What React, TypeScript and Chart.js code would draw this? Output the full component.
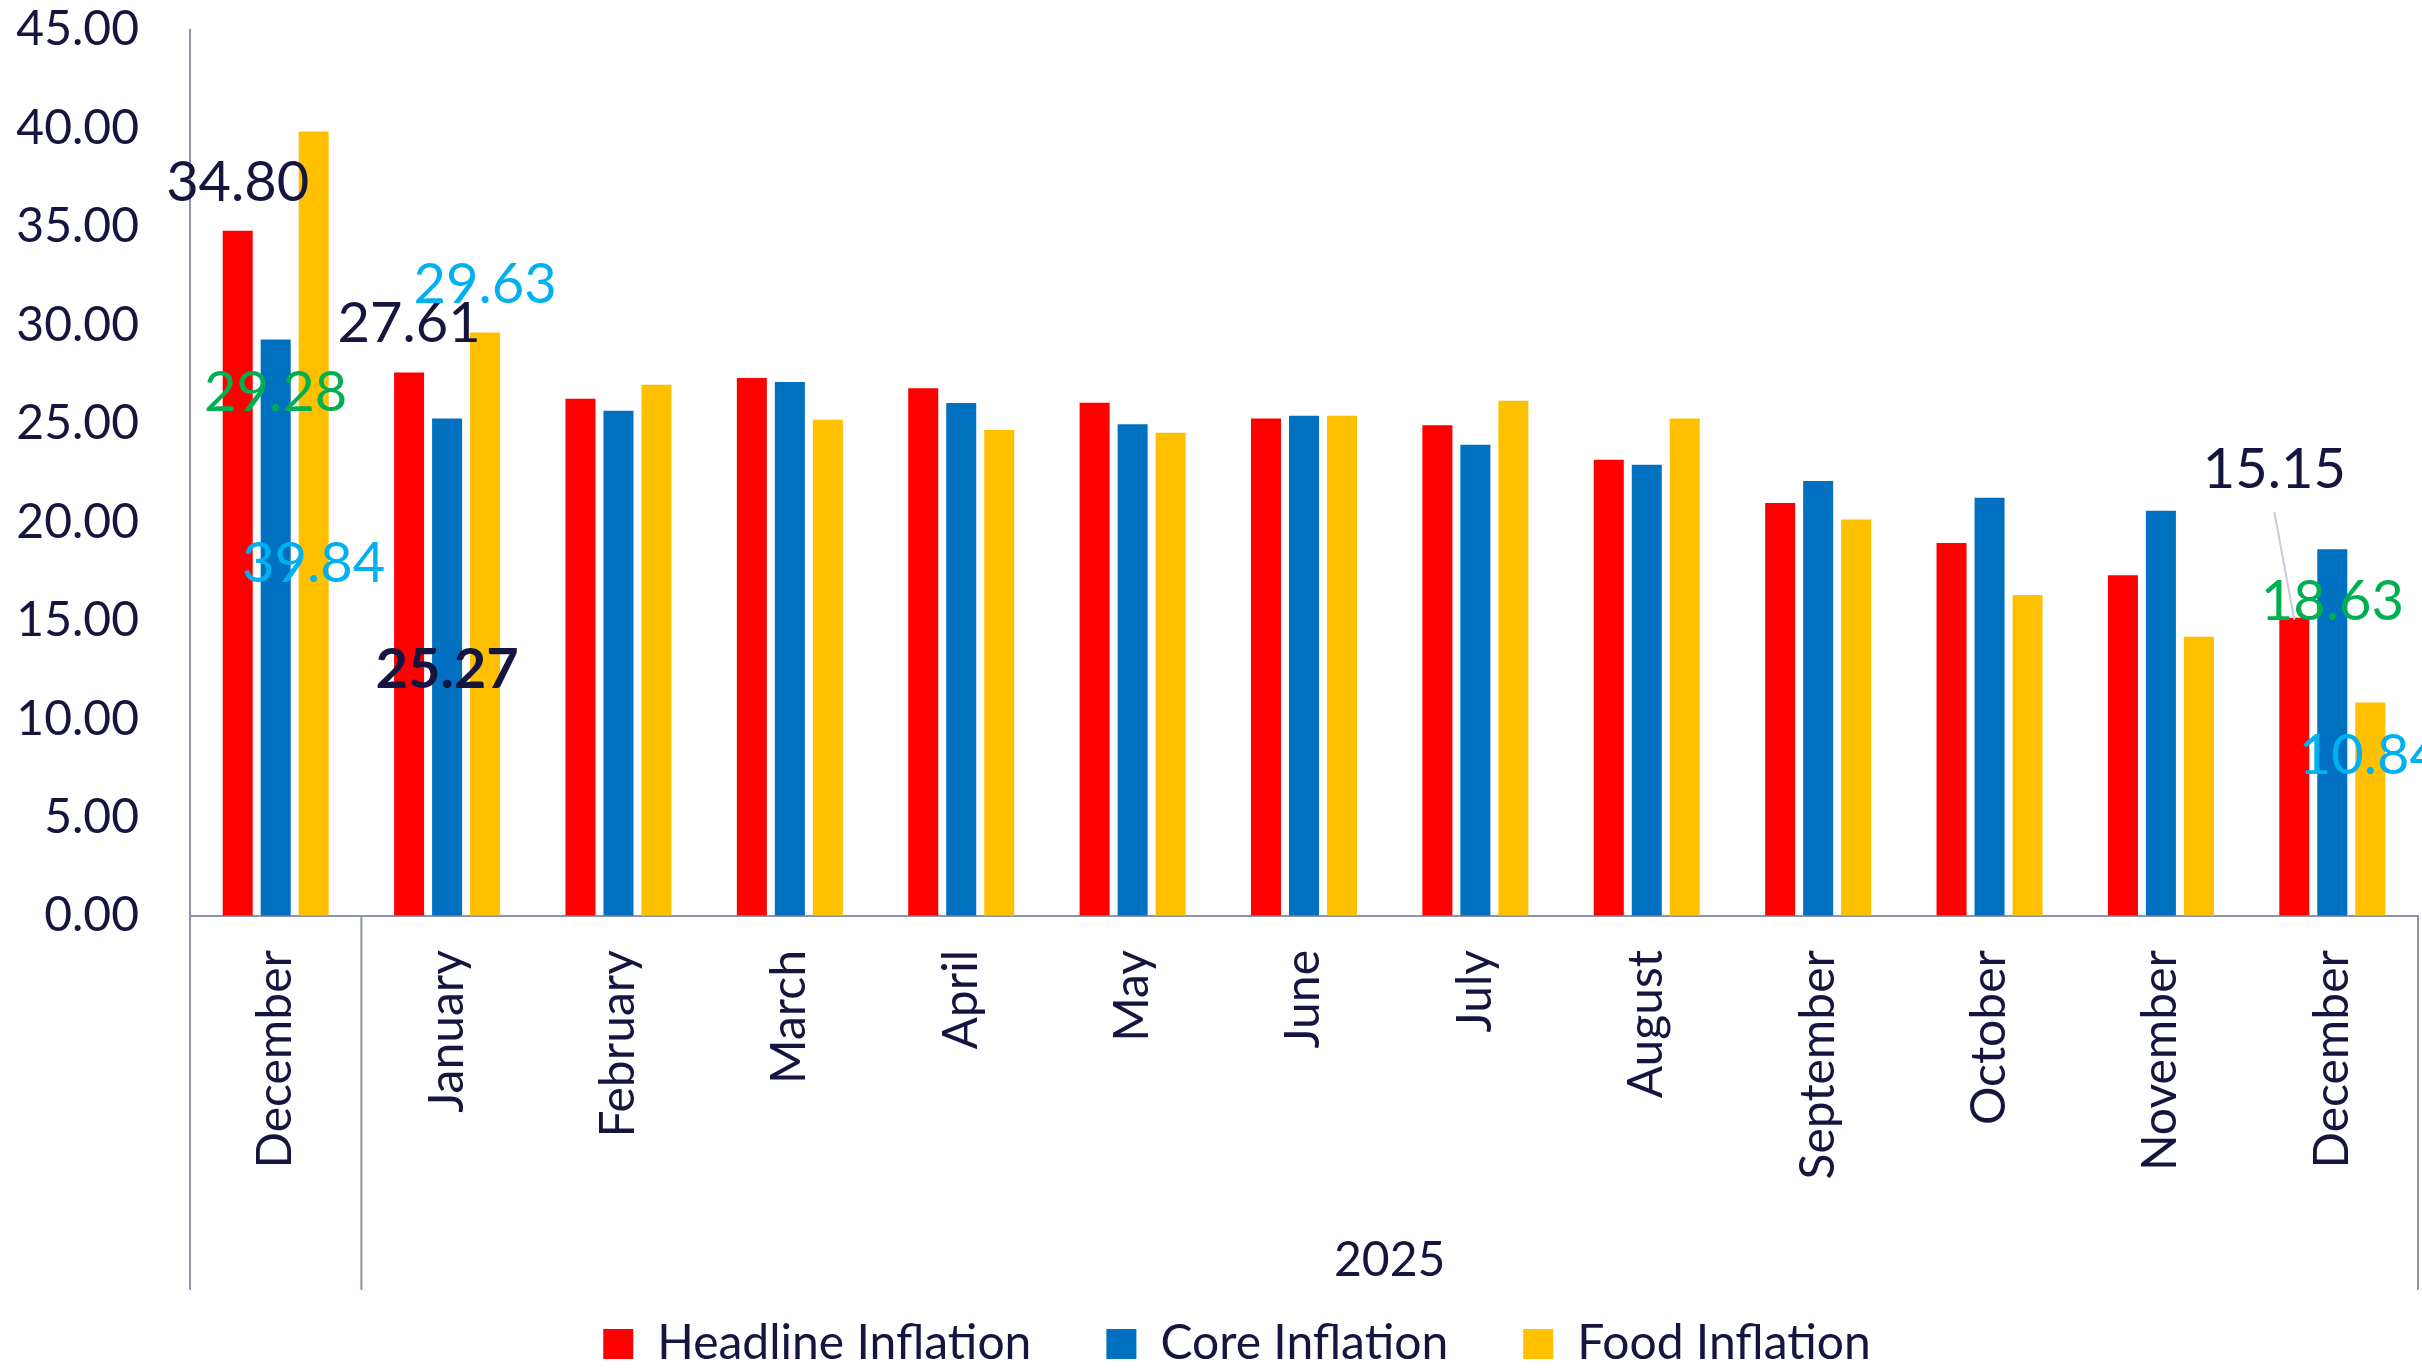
import React, { useEffect, useRef } from 'react';
import { Chart, registerables } from 'chart.js';

Chart.register(...registerables);

// ---- data ----
const months = [
  'December', 'January', 'February', 'March', 'April', 'May', 'June',
  'July', 'August', 'September', 'October', 'November', 'December',
];
const seriesNames = ['Headline Inflation', 'Core Inflation', 'Food Inflation'];
const headline = [34.80, 27.61, 26.27, 27.32, 26.81, 26.07, 25.27, 24.93, 23.17, 20.97, 18.95, 17.31, 15.15];
const core = [29.28, 25.27, 25.66, 27.12, 26.05, 24.98, 25.41, 23.93, 22.92, 22.10, 21.24, 20.58, 18.63];
const food = [39.84, 29.63, 26.98, 25.20, 24.68, 24.54, 25.41, 26.17, 25.27, 20.14, 16.30, 14.18, 10.84];
const yMin = 0;
const yMax = 45;
const yStep = 5;
const yearGroups = [{ text: '2025', first: 1, last: 12 }];
const groupBoundaries = [0, 1, 13];

// ---- styling ----
const NAVY = '#15153F';
const GREEN = '#00B050';
const CYAN = '#00B0F0';
const AXIS = '#8C93AB';
const FONT = 'Lato';
const seriesColors = ['#FF0000', '#0070C0', '#FFC000'];

// data-label annotations (anchored on a bar's x, vertical centre given in value units)
const valueNotes = [
  { cat: 0, series: 0, text: '34.80', at: 37.25, color: NAVY, bold: false, dx: 0 },
  { cat: 0, series: 1, text: '29.28', at: 26.58, color: GREEN, bold: false, dx: 0 },
  { cat: 0, series: 2, text: '39.84', at: 17.9, color: CYAN, bold: false, dx: 0 },
  { cat: 1, series: 0, text: '27.61', at: 30.08, color: NAVY, bold: false, dx: 0 },
  { cat: 1, series: 2, text: '29.63', at: 32.06, color: CYAN, bold: false, dx: 0 },
  { cat: 1, series: 1, text: '25.27', at: 12.5, color: NAVY, bold: true, dx: 0 },
  { cat: 12, series: 0, text: '15.15', at: 22.66, color: NAVY, bold: false, dx: -20, leader: true },
  { cat: 12, series: 1, text: '18.63', at: 15.95, color: GREEN, bold: false, dx: 0 },
  { cat: 12, series: 2, text: '10.84', at: 8.13, color: CYAN, bold: false, dx: 0 },
];

const legendShiftPlugin = {
  id: 'legendShift',
  afterLayout(chart: any) {
    const l = chart.legend;
    if (l) {
      l.left += 28;
      l.right += 28;
    }
  },
};

const decorPlugin = {
  id: 'decor',
  afterDraw(chart: any) {
    const { ctx, chartArea } = chart;
    const xs = chart.scales.x;
    const ys = chart.scales.y;
    const half = (xs.getPixelForValue(1) - xs.getPixelForValue(0)) / 2;
    ctx.save();
    // group separators below the axis
    ctx.strokeStyle = AXIS;
    ctx.lineWidth = 2;
    groupBoundaries.forEach((b) => {
      const x = b < months.length ? xs.getPixelForValue(b) - half : xs.getPixelForValue(months.length - 1) + half;
      ctx.beginPath();
      ctx.moveTo(x, chartArea.bottom);
      ctx.lineTo(x, chartArea.bottom + 374);
      ctx.stroke();
    });
    // year group labels
    ctx.fillStyle = NAVY;
    ctx.font = `48px ${FONT}`;
    ctx.textAlign = 'center';
    ctx.textBaseline = 'middle';
    yearGroups.forEach((g) => {
      const x = (xs.getPixelForValue(g.first) + xs.getPixelForValue(g.last)) / 2;
      ctx.fillText(g.text, x, chartArea.bottom + 345);
    });
    // value notes
    valueNotes.forEach((n) => {
      const bar = chart.getDatasetMeta(n.series).data[n.cat];
      const x = bar.x + n.dx;
      const y = ys.getPixelForValue(n.at);
      if (n.leader) {
        ctx.strokeStyle = '#C9CCD8';
        ctx.lineWidth = 2;
        ctx.beginPath();
        ctx.moveTo(x, y + 42);
        ctx.lineTo(bar.x, bar.y + 2);
        ctx.stroke();
      }
      ctx.fillStyle = n.color;
      ctx.font = `${n.bold ? 'bold ' : ''}56px ${FONT}`;
      ctx.textAlign = 'center';
      ctx.textBaseline = 'middle';
      ctx.fillText(n.text, x, y);
    });
    ctx.restore();
  },
};

export default function App() {
  const ref = useRef<HTMLCanvasElement | null>(null);
  useEffect(() => {
    if (!ref.current) return;
    const values = [headline, core, food];
    const chart = new Chart(ref.current, {
      type: 'bar',
      data: {
        labels: months,
        datasets: values.map((v, i) => ({
          label: seriesNames[i],
          data: v,
          backgroundColor: seriesColors[i],
          borderWidth: 0,
          categoryPercentage: 0.665,
          barPercentage: 0.79,
        })),
      },
      options: {
        animation: false,
        responsive: false,
        devicePixelRatio: 1,
        layout: { padding: { top: 30, left: 0, right: 4, bottom: -9 } },
        plugins: {
          legend: {
            position: 'bottom',
            labels: {
              boxWidth: 30,
              boxHeight: 30,
              padding: 75,
              color: NAVY,
              font: { family: FONT, size: 48 },
            },
          },
          tooltip: { enabled: false },
        },
        scales: {
          x: {
            grid: { display: true, color: 'rgba(0,0,0,0)', drawOnChartArea: false, drawTicks: false },
            border: { display: true, color: AXIS, width: 2 },
            ticks: {
              autoSkip: false,
              minRotation: 90,
              maxRotation: 90,
              padding: 34,
              color: NAVY,
              font: { family: FONT, size: 48 },
            },
            afterFit: (s: any) => {
              s.height = 329;
              s.paddingLeft = 0;
              s.paddingRight = 0;
            },
          },
          y: {
            min: yMin,
            max: yMax,
            ticks: {
              stepSize: yStep,
              padding: 51,
              color: NAVY,
              font: { family: FONT, size: 48 },
              callback: (v: any) => Number(v).toFixed(2),
            },
            grid: { display: true, color: 'rgba(0,0,0,0)', drawOnChartArea: false, drawTicks: false },
            border: { display: true, color: AXIS, width: 2 },
            afterFit: (s: any) => {
              s.width = 190;
              s.paddingTop = 0;
              s.paddingBottom = 0;
            },
          },
        },
      } as any,
      plugins: [legendShiftPlugin, decorPlugin],
    });
    return () => chart.destroy();
  }, []);
  return (
    <div style={{ position: 'fixed', left: 0, top: 0, width: 2422, height: 1369, background: '#fff' }}>
      <canvas ref={ref} width={2422} height={1369} style={{ display: 'block' }} />
    </div>
  );
}
